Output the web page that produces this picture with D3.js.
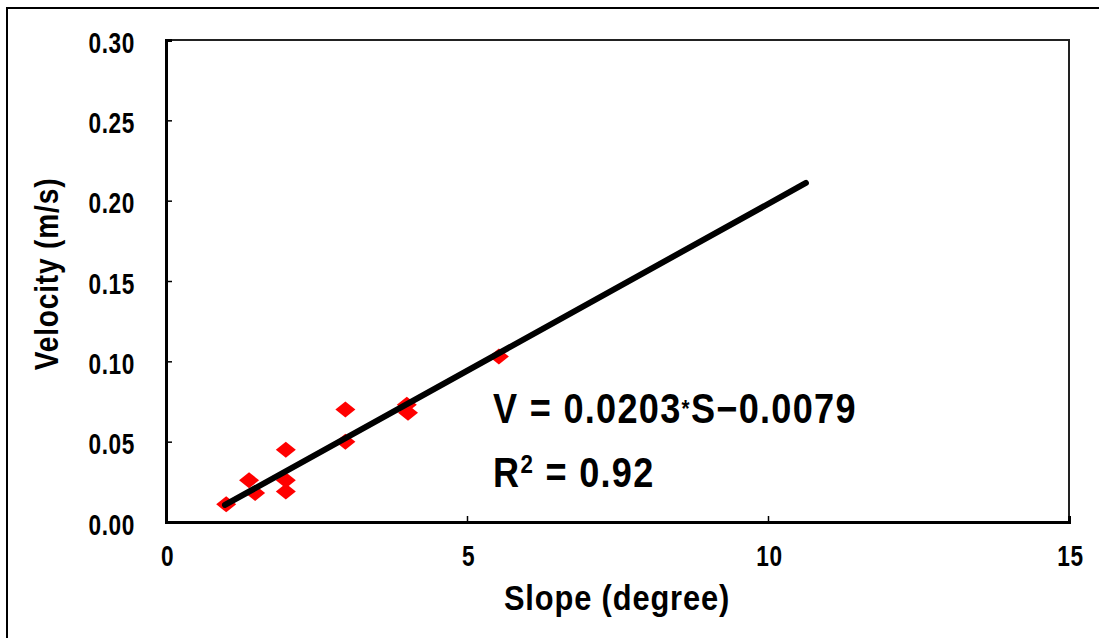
<!DOCTYPE html>
<html>
<head>
<meta charset="utf-8">
<script src="https://cdn.jsdelivr.net/npm/d3@7"></script>
<style>
  body { margin: 0; background: #fff; }
  text { font-family: "Liberation Sans", Arial, sans-serif; font-weight: bold; fill: #000; }
</style>
</head>
<body>
<div id="chart"></div>
<script>
// slope (degree) and velocity (m/s)
var slopes     = [1.0, 1.38, 1.48, 1.99, 1.99, 1.99, 2.98, 2.98, 4.0, 4.02, 5.53];
var velocities = [0.011, 0.026, 0.018, 0.045, 0.026, 0.019, 0.070, 0.050, 0.073, 0.068, 0.103];
var xTicks = [0, 5, 10, 15];
var yTicks = [0, 0.05, 0.10, 0.15, 0.20, 0.25, 0.30];
// trend line ends as drawn
var fitSlopes = [0.98, 10.63];
var fitVelocities = [0.0106, 0.211];

var width = 1099, height = 638;
var margin = {t: 40, r: 30, b: 116, l: 166};

var svg = d3.select('#chart')
  .append('svg')
  .attr('width', width)
  .attr('height', height);

// outer frame
svg.append('rect')
  .attr('x', 7).attr('y', 8)
  .attr('width', 1200).attr('height', 800)
  .style('fill', 'none')
  .style('stroke', 'black')
  .style('stroke-width', '2px');

var x = d3.scaleLinear().domain([0, 15]).range([margin.l, width - margin.r]);
var y = d3.scaleLinear().domain([0, 0.30]).range([height - margin.b, margin.t]);

// plot frame, top and right
svg.append('path')
  .attr('d', 'M' + x(0) + ',' + y(0.30) + 'H' + x(15) + 'V' + y(0))
  .style('fill', 'none')
  .style('stroke', '#222')
  .style('stroke-width', '2px');

var xAxis = svg.append('g')
  .attr('transform', 'translate(0,' + y(0) + ')')
  .call(d3.axisBottom(x).tickValues(xTicks).tickSize(-6).tickFormat(d3.format('d')));

var yAxis = svg.append('g')
  .attr('transform', 'translate(' + x(0) + ',0)')
  .call(d3.axisLeft(y).tickValues(yTicks).tickSize(-6).tickFormat(d3.format('.2f')));

[xAxis, yAxis].forEach(function(ax) {
  ax.select('.domain').style('stroke', 'black').style('stroke-width', '3px');
  ax.selectAll('.tick line').style('stroke', 'black').style('stroke-width', '1.5px');
  ax.selectAll('.tick text')
    .style('font-size', '29px')
    .style('letter-spacing', '0.8px')
    .style('font-family', '"Liberation Sans", Arial, sans-serif');
});
xAxis.selectAll('.tick text')
  .attr('x', 0).attr('y', 0).attr('dy', null)
  .attr('transform', 'translate(1,44) scale(0.78,1)');
yAxis.selectAll('.tick text')
  .attr('x', 0).attr('y', 0).attr('dy', null)
  .attr('transform', 'translate(-31,12) scale(0.78,1)');

// data points
var pts = slopes.map(function(s, i) { return {s: s, v: velocities[i]}; });
svg.append('g')
  .selectAll('path')
  .data(pts)
  .enter()
  .append('path')
  .attr('transform', function(d) { return 'translate(' + x(d.s) + ',' + y(d.v) + ')'; })
  .attr('d', 'M0,-8L10,0L0,8L-10,0Z')
  .style('fill', 'red');

// trend line
var line = d3.line()
  .x(function(d) { return x(d[0]); })
  .y(function(d) { return y(d[1]); });

svg.append('path')
  .datum(d3.zip(fitSlopes, fitVelocities))
  .attr('d', line)
  .style('fill', 'none')
  .style('stroke', 'black')
  .style('stroke-width', '6px')
  .style('stroke-linecap', 'round');

// equation
var eq = svg.append('text')
  .attr('transform', 'translate(493,423) scale(0.86,1)')
  .style('font-size', '42px')
  .style('letter-spacing', '1.5px');
eq.append('tspan').text('V = 0.0203');
eq.append('tspan').text('*').style('font-size', '24px').attr('dy', -6);
eq.append('tspan').text('S').attr('dy', 6);
eq.append('tspan').text('\u22120.0079');

var r2 = svg.append('text')
  .attr('transform', 'translate(493,487) scale(0.86,1)')
  .style('font-size', '42px')
  .style('letter-spacing', '1.5px');
r2.append('tspan').text('R');
r2.append('tspan').text('2').style('font-size', '26px').attr('dy', -14);
r2.append('tspan').text(' = 0.92').attr('dy', 14);

// axis titles
svg.append('text')
  .attr('transform', 'translate(617,610) scale(0.88,1)')
  .attr('text-anchor', 'middle')
  .style('font-size', '35px')
  .style('letter-spacing', '1px')
  .text('Slope (degree)');

svg.append('text')
  .attr('transform', 'translate(58,274) rotate(-90) scale(0.85,1)')
  .attr('text-anchor', 'middle')
  .style('font-size', '33px')
  .style('letter-spacing', '1px')
  .text('Velocity (m/s)');
</script>
</body>
</html>
